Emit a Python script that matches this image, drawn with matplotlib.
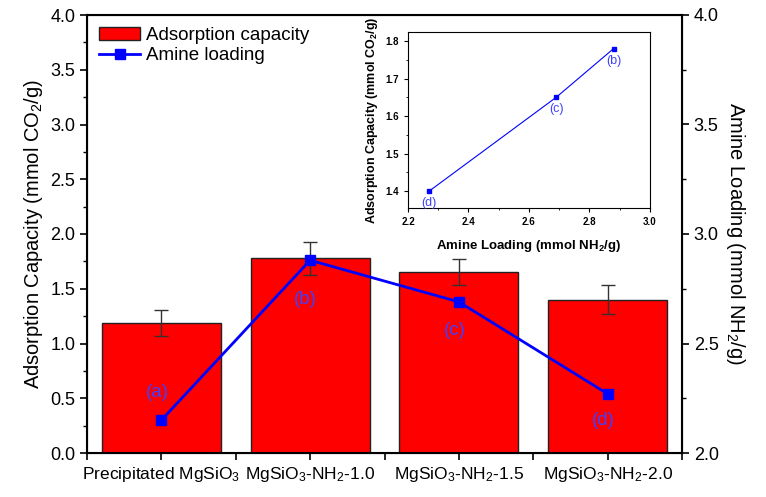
import numpy as np
import matplotlib
matplotlib.use("Agg")
import matplotlib.pyplot as plt
from matplotlib.ticker import MultipleLocator, FixedLocator

plt.rcParams["font.family"] = ["Liberation Sans", "DejaVu Sans"]
plt.rcParams["mathtext.default"] = "regular"

samples = ["Precipitated MgSiO$_3$", "MgSiO$_3$-NH$_2$-1.0",
           "MgSiO$_3$-NH$_2$-1.5", "MgSiO$_3$-NH$_2$-2.0"]
capacity = [1.19, 1.78, 1.65, 1.40]
capacity_err = [0.12, 0.15, 0.12, 0.135]
amine = [2.15, 2.88, 2.69, 2.27]
point_labels = ["(a)", "(b)", "(c)", "(d)"]
label_y = [0.55, 1.40, 1.12, 0.30]   # left-axis units

inset_amine = [2.27, 2.69, 2.88]
inset_cap = [1.40, 1.65, 1.78]
inset_labels = ["(d)", "(c)", "(b)"]

lab_col = "#4040ff"
x = np.arange(len(samples))

fig = plt.figure(figsize=(7.66, 4.97), dpi=100)
ax = fig.add_axes([87/766, 44/497, 595/766, 438/497])
ax.bar(x, capacity, width=0.8, color="#ff0000", edgecolor="#222222", linewidth=1,
       yerr=capacity_err, error_kw=dict(ecolor="#333333", elinewidth=1, capsize=5, capthick=1),
       label="Adsorption capacity", zorder=2)
ax.set_xlim(-0.5, 3.5)
ax.set_ylim(0, 4)
ax.set_xticks(x)
ax.set_xticklabels(samples)
ax.xaxis.set_minor_locator(FixedLocator([-0.5, 0.5, 1.5, 2.5, 3.5]))
ax.yaxis.set_major_locator(MultipleLocator(0.5))
ax.yaxis.set_minor_locator(MultipleLocator(0.25))
ax.tick_params(axis="both", which="major", direction="out", length=5, width=1.2, labelsize=13)
ax.tick_params(axis="x", which="major", labelsize=12.5)
ax.tick_params(axis="both", which="minor", direction="out", length=3, width=1)
ax.tick_params(axis="x", which="minor", length=5, width=1.2)
ax.set_ylabel("Adsorption Capacity (mmol CO$_2$/g)", fontsize=14.5, labelpad=4)
for s in ax.spines.values():
    s.set_linewidth(1.5)

ax2 = ax.twinx()
ax2.plot(x, amine, color="#0000ff", lw=2, marker="s", ms=6.5, label="Amine loading")
ax2.set_ylim(2, 4)
ax2.yaxis.set_major_locator(MultipleLocator(0.5))
ax2.yaxis.set_minor_locator(MultipleLocator(0.25))
ax2.tick_params(axis="y", which="major", direction="out", length=5, width=1.2, labelsize=13)
ax2.tick_params(axis="y", which="minor", direction="out", length=3, width=1)
ax2.set_ylabel("Amine Loading (mmol NH$_2$/g)", fontsize=14.5, rotation=270, labelpad=20)

for xi, yi, t in zip(x, label_y, point_labels):
    ax.text(xi - 0.03, yi, t, color=lab_col, fontsize=13.5, ha="center", va="center", zorder=5)

h1, l1 = ax.get_legend_handles_labels()
h2, l2 = ax2.get_legend_handles_labels()
ax.legend(h1 + h2, l1 + l2, loc="upper left", frameon=False, fontsize=13.5,
          handlelength=2.2, borderaxespad=0.35, handletextpad=0.3, labelspacing=0.15,
          borderpad=0.3)

# inset
ins = fig.add_axes([408/766, 289/497, 242/766, 176/497])
ins.plot(inset_amine, inset_cap, color="#0000ff", lw=0.8, marker="s", ms=3)
for xi, yi, t in zip(inset_amine, inset_cap, inset_labels):
    ins.text(xi, yi - 0.032, t, color=lab_col, fontsize=9, ha="center", va="center")
ins.set_xlim(2.2, 3.0)
ins.set_ylim(1.355, 1.824)
ins.xaxis.set_major_locator(MultipleLocator(0.2))
ins.xaxis.set_minor_locator(MultipleLocator(0.1))
ins.yaxis.set_major_locator(MultipleLocator(0.1))
ins.yaxis.set_minor_locator(MultipleLocator(0.05))
ins.tick_params(which="major", direction="out", length=3, width=0.8, labelsize=7)
ins.tick_params(which="minor", direction="out", length=1.5, width=0.6)
for lbl in ins.get_xticklabels() + ins.get_yticklabels():
    lbl.set_fontweight("bold")
ins.set_xlabel("Amine Loading (mmol NH$_2$/g)", fontsize=9.5, fontweight="bold", labelpad=8)
ins.set_ylabel("Adsorption Capacity (mmol CO$_2$/g)", fontsize=9, fontweight="bold", labelpad=4)
for s in ins.spines.values():
    s.set_linewidth(0.8)

fig.savefig("out.png", dpi=100)
